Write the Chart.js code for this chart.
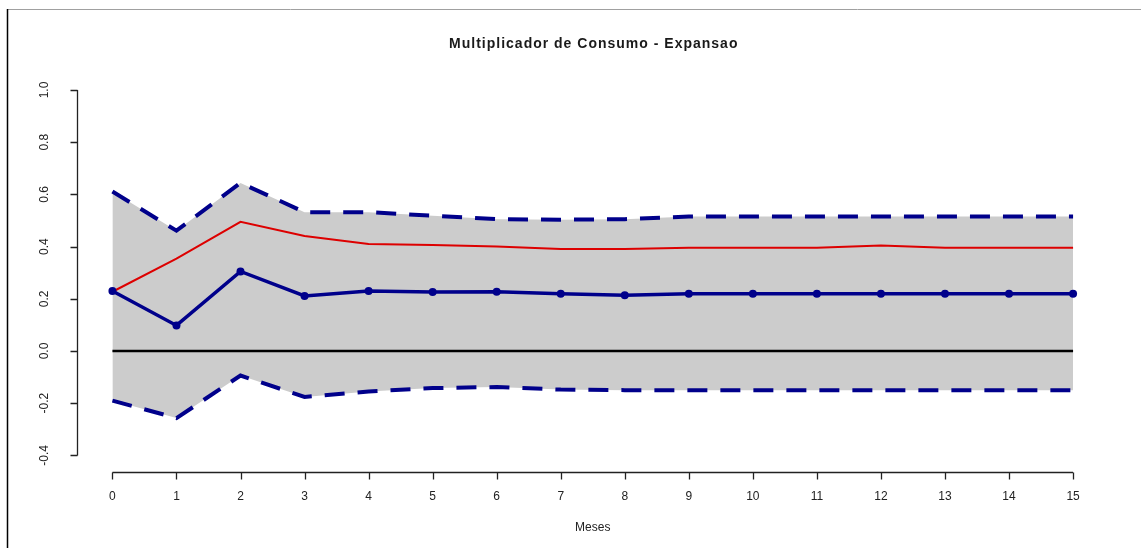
<!DOCTYPE html>
<html>
<head>
<meta charset="utf-8">
<script src="https://cdn.jsdelivr.net/npm/chart.js@4/dist/chart.umd.min.js"></script>
<style>
  html, body { margin: 0; padding: 0; background: #ffffff; }
  canvas { display: block; }
</style>
</head>
<body>
<canvas id="c" width="1141" height="548"></canvas>
<script>
// ---- data ----
const meses = [0, 1, 2, 3, 4, 5, 6, 7, 8, 9, 10, 11, 12, 13, 14, 15];
const central = [0.230, 0.098, 0.305, 0.211, 0.230, 0.226, 0.227, 0.219, 0.214, 0.219, 0.219, 0.219, 0.219, 0.219, 0.219, 0.219];
const upperBand = [0.611, 0.461, 0.644, 0.532, 0.532, 0.518, 0.505, 0.503, 0.505, 0.515, 0.515, 0.515, 0.515, 0.515, 0.515, 0.515];
const lowerBand = [-0.190, -0.257, -0.094, -0.176, -0.155, -0.142, -0.138, -0.148, -0.150, -0.150, -0.150, -0.150, -0.150, -0.150, -0.150, -0.150];
const redLine = [0.227, 0.354, 0.495, 0.441, 0.410, 0.406, 0.400, 0.391, 0.391, 0.396, 0.396, 0.396, 0.404, 0.396, 0.396, 0.396];
const zeroLevel = 0;
const xTicks = [0, 1, 2, 3, 4, 5, 6, 7, 8, 9, 10, 11, 12, 13, 14, 15];
const yTicks = [-0.4, -0.2, 0.0, 0.2, 0.4, 0.6, 0.8, 1.0];
const yTickLabels = ['-0.4', '-0.2', '0.0', '0.2', '0.4', '0.6', '0.8', '1.0'];
const chartTitle = 'Multiplicador de Consumo - Expansao';
const xTitle = 'Meses';

const toPts = (ys) => meses.map((m, i) => ({ x: m, y: ys[i] }));
const FONT = '"Liberation Sans", Arial, sans-serif';

const rAxes = {
  id: 'rAxes',
  afterDraw(chart) {
    const { ctx, chartArea, scales: { x, y } } = chart;
    ctx.save();
    // outer frame fragments
    ctx.strokeStyle = '#a0a0a0'; ctx.lineWidth = 1;
    ctx.beginPath(); ctx.moveTo(7, 9.5); ctx.lineTo(1141, 9.5); ctx.stroke();
    ctx.strokeStyle = '#000000'; ctx.lineWidth = 1.5;
    ctx.beginPath(); ctx.moveTo(7.5, 9); ctx.lineTo(7.5, 548); ctx.stroke();

    ctx.strokeStyle = '#222222'; ctx.lineWidth = 1.3; ctx.fillStyle = '#222222';
    // x axis
    const ay = chartArea.bottom + 2.5;
    const x0 = x.getPixelForValue(xTicks[0]);
    const x1 = x.getPixelForValue(xTicks[xTicks.length - 1]);
    ctx.beginPath(); ctx.moveTo(x0, ay); ctx.lineTo(x1, ay);
    xTicks.forEach(t => { const px = Math.round(x.getPixelForValue(t)) + 0.5; ctx.moveTo(px, ay); ctx.lineTo(px, ay + 7); });
    ctx.stroke();
    ctx.font = '12px ' + FONT; ctx.textAlign = 'center'; ctx.textBaseline = 'middle';
    xTicks.forEach(t => ctx.fillText(String(t), x.getPixelForValue(t), ay + 24));
    // y axis
    const ax = chartArea.left + 3.5;
    const y0 = y.getPixelForValue(yTicks[0]);
    const y1 = y.getPixelForValue(yTicks[yTicks.length - 1]);
    ctx.beginPath(); ctx.moveTo(ax, y0); ctx.lineTo(ax, y1);
    yTicks.forEach(t => { const py = Math.round(y.getPixelForValue(t)) + 0.5; ctx.moveTo(ax, py); ctx.lineTo(ax - 7, py); });
    ctx.stroke();
    yTicks.forEach((t, i) => {
      ctx.save();
      ctx.translate(ax - 33, y.getPixelForValue(t));
      ctx.rotate(-Math.PI / 2);
      ctx.fillText(yTickLabels[i], 0, 0);
      ctx.restore();
    });
    // x title
    ctx.fillText(xTitle, (x0 + x1) / 2, 528);
    // main title
    ctx.fillStyle = '#1a1a1a';
    ctx.font = 'bold 14px ' + FONT;
    try { ctx.letterSpacing = '1px'; } catch (e) {}
    ctx.fillText(chartTitle, (chartArea.left + chartArea.right) / 2 + 1, 44);
    ctx.restore();
  }
};

new Chart(document.getElementById('c'), {
  type: 'line',
  data: {
    datasets: [
      { label: 'upper', data: toPts(upperBand), borderColor: '#00008B', borderWidth: 4, borderDash: [20, 13],
        borderCapStyle: 'butt', pointRadius: 0, fill: '+1', backgroundColor: '#CCCCCC', order: 3 },
      { label: 'lower', data: toPts(lowerBand), borderColor: '#00008B', borderWidth: 4, borderDash: [20, 13],
        borderCapStyle: 'butt', pointRadius: 0, fill: false, order: 3 },
      { label: 'zero', data: [{ x: meses[0], y: zeroLevel }, { x: meses[meses.length - 1], y: zeroLevel }],
        borderColor: '#000000', borderWidth: 2.5, pointRadius: 0, fill: false, order: 2 },
      { label: 'red', data: toPts(redLine), borderColor: '#DD0000', borderWidth: 2, pointRadius: 0, fill: false, order: 1 },
      { label: 'central', data: toPts(central), borderColor: '#00008B', borderWidth: 3.5, pointRadius: 4,
        pointBackgroundColor: '#00008B', pointBorderColor: '#00008B', pointBorderWidth: 0, fill: false, order: 0 }
    ]
  },
  options: {
    responsive: false,
    animation: false,
    devicePixelRatio: 1,
    layout: { padding: { left: 74, right: 29.5, top: 75.4, bottom: 78 } },
    elements: { line: { tension: 0 } },
    scales: {
      x: { type: 'linear', min: -0.6, max: 15.6, display: false },
      y: { type: 'linear', min: -0.456, max: 1.056, display: false }
    },
    plugins: {
      legend: { display: false },
      tooltip: { enabled: false },
      title: { display: false },
      filler: { drawTime: 'beforeDatasetsDraw' }
    }
  },
  plugins: [rAxes]
});
</script>
</body>
</html>
